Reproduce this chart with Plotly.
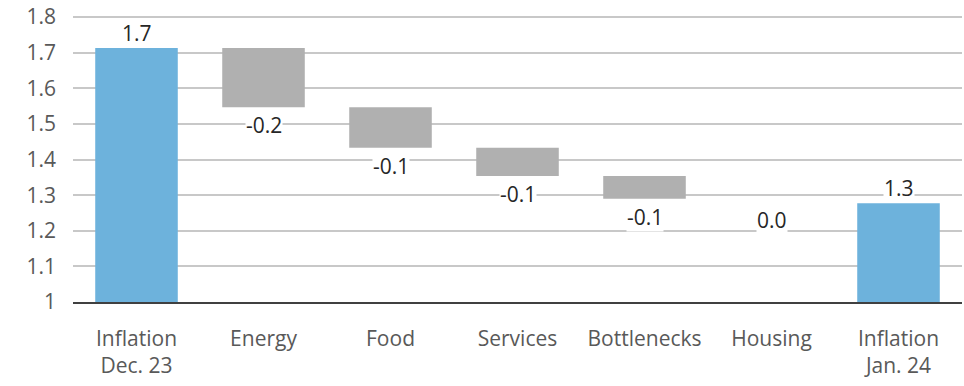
import plotly.graph_objects as go

categories = ["Inflation<br>Dec. 23", "Energy", "Food", "Services", "Bottlenecks", "Housing", "Inflation<br>Jan. 24"]
kinds = ["total", "change", "change", "change", "change", "change", "total"]
values = [1.713, -0.166, -0.114, -0.079, -0.064, 0.0, 1.277]
labels = ["1.7", "-0.2", "-0.1", "-0.1", "-0.1", "0.0", "1.3"]
ytick_vals = [1.0, 1.1, 1.2, 1.3, 1.4, 1.5, 1.6, 1.7, 1.8]
ytick_text = ["1", "1.1", "1.2", "1.3", "1.4", "1.5", "1.6", "1.7", "1.8"]

BLUE = "#6db2dc"
GRAY = "#b0b0b0"

bases, heights, colors, ends = [], [], [], []
level = 0.0
for k, v in zip(kinds, values):
    if k == "total":
        bases.append(0)
        heights.append(v)
        colors.append(BLUE)
        level = v
        ends.append(v)
    else:
        bases.append(level + v)
        heights.append(-v)
        colors.append(GRAY)
        level = level + v
        ends.append(level)

fig = go.Figure()
fig.add_trace(go.Bar(
    x=categories, y=heights, base=bases,
    marker=dict(color=colors, line=dict(width=0)),
    width=0.65, hoverinfo="skip", showlegend=False,
))

for cat, k, end, lab in zip(categories, kinds, ends, labels):
    fig.add_annotation(
        x=cat, y=end, text=lab, showarrow=False,
        yanchor="bottom" if k == "total" else "top",
        yshift=0 if k == "total" else (-6 if lab == "0.0" else -3),
        bgcolor="white", borderpad=0,
        font=dict(family="Open Sans", size=21, color="#262626"),
    )

fig.update_layout(
    width=964, height=386,
    margin=dict(l=73, r=2, t=13, b=84),
    plot_bgcolor="white", paper_bgcolor="white",
    font=dict(family="Open Sans", size=21, color="#595959"),
    bargap=0.35,
)
fig.update_xaxes(
    showline=True, linecolor="#404040", linewidth=1.5,
    showgrid=False, ticks="", tickfont=dict(size=21, color="#595959"),
    ticklabelstandoff=17,
)
fig.update_yaxes(
    range=[1, 1.803], tickvals=ytick_vals, ticktext=ytick_text,
    showgrid=True, gridcolor="#c8c8c8", gridwidth=1.5,
    zeroline=False, showline=False, ticks="",
    tickfont=dict(size=21, color="#595959"), ticklabelstandoff=16,
    ticklabeloverflow="allow",
)

fig.write_html("out.html")
